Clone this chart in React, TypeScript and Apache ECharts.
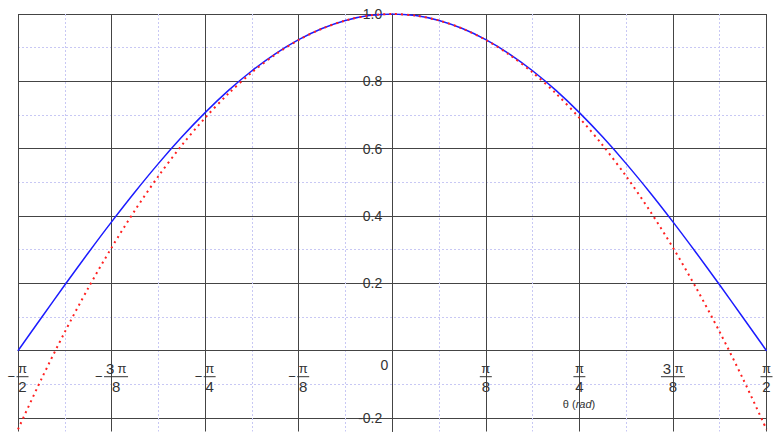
import { useEffect, useRef } from "react";
import * as echarts from "echarts";

// theta in units of pi, from -pi/2 to pi/2 in steps of pi/32
const thetaOverPi = [
  -0.5, -0.46875, -0.4375, -0.40625, -0.375, -0.34375, -0.3125, -0.28125,
  -0.25, -0.21875, -0.1875, -0.15625, -0.125, -0.09375, -0.0625, -0.03125,
  0, 0.03125, 0.0625, 0.09375, 0.125, 0.15625, 0.1875, 0.21875, 0.25,
  0.28125, 0.3125, 0.34375, 0.375, 0.40625, 0.4375, 0.46875, 0.5,
];

// cos(theta), solid blue
const cosValues = [
  0, 0.098, 0.1951, 0.2903, 0.3827, 0.4714, 0.5556, 0.6344, 0.7071, 0.773,
  0.8315, 0.8819, 0.9239, 0.9569, 0.9808, 0.9952, 1, 0.9952, 0.9808, 0.9569,
  0.9239, 0.8819, 0.8315, 0.773, 0.7071, 0.6344, 0.5556, 0.4714, 0.3827,
  0.2903, 0.1951, 0.098, 0,
];

// 1 - theta^2 / 2, dotted red
const approxValues = [
  -0.2337, -0.0843, 0.0554, 0.1856, 0.306, 0.4169, 0.5181, 0.6097, 0.6916,
  0.7639, 0.8265, 0.8795, 0.9229, 0.9566, 0.9807, 0.9952, 1, 0.9952, 0.9807,
  0.9566, 0.9229, 0.8795, 0.8265, 0.7639, 0.6916, 0.6097, 0.5181, 0.4169,
  0.306, 0.1856, 0.0554, -0.0843, -0.2337,
];

const FONT = "'Liberation Sans', Arial, sans-serif";
const TEXT = "#333";
const MAJOR = "#444";
const MINOR = "#c8c8f4";

// plot box (px) and axis ranges
const GRID_LEFT = 18;
const GRID_RIGHT = 13.5;
const GRID_TOP = 14;
const GRID_BOTTOM = 5.5;
const Y_MIN = -0.24;
const Y_MAX = 1;
const X_MIN = -0.5;
const X_MAX = 0.5;

const gcd = (a: number, b: number): number => (b === 0 ? a : gcd(b, a % b));

// x labels as stacked fractions of pi
function piLabel(value: number) {
  const n = Math.round(value * 8);
  if (n === 0) return "";
  const m = Math.abs(n);
  const g = gcd(m, 8);
  const num = m / g;
  const den = 8 / g;
  const neg = n < 0;
  const wide = num !== 1;
  const top = (wide ? `{c|${num}}` : "") + "{p|π}";
  const bar = wide ? "{barW|\u00a0}" : "{bar|\u00a0}";
  const bottom = wide ? `{dW|${den}}` : `{d|${den}}`;
  return [
    (neg ? "{pad|\u00a0}" : "") + top,
    (neg ? "{neg|−}" : "") + bar,
    (neg ? "{pad2|\u00a0}" : "") + bottom,
  ].join("\n");
}

export default function App() {
  const chartRef = useRef<HTMLDivElement>(null);

  useEffect(() => {
    if (!chartRef.current) return;
    const chart = echarts.init(chartRef.current, null, { renderer: "svg" });

    const w = chartRef.current.clientWidth;
    const h = chartRef.current.clientHeight;
    const plotW = w - GRID_LEFT - GRID_RIGHT;
    const plotH = h - GRID_TOP - GRID_BOTTOM;
    // move the axes onto the zero lines
    const xAxisOffset = -(plotH * (0 - Y_MIN)) / (Y_MAX - Y_MIN);
    const yAxisOffset = -(plotW * (0 - X_MIN)) / (X_MAX - X_MIN);

    chart.setOption({
      animation: false,
      backgroundColor: "#fff",
      textStyle: { fontFamily: FONT },
      grid: {
        left: GRID_LEFT,
        right: GRID_RIGHT,
        top: GRID_TOP,
        bottom: GRID_BOTTOM,
        containLabel: false,
        outerBoundsMode: "none",
      },
      xAxis: {
        type: "value",
        min: X_MIN,
        max: X_MAX,
        interval: 0.125,
        position: "bottom",
        offset: xAxisOffset,
        axisLine: { show: true, onZero: false, lineStyle: { color: MAJOR, width: 1 } },
        axisTick: { show: false },
        splitLine: { show: true, lineStyle: { color: MAJOR, width: 1 } },
        minorTick: { show: false, splitNumber: 2 },
        minorSplitLine: {
          show: true,
          lineStyle: { color: MINOR, width: 1, type: [2, 2] },
        },
        axisLabel: {
          show: true,
          margin: 11,
          color: TEXT,
          fontFamily: FONT,
          formatter: piLabel,
          rich: {
            pad: { width: 9, lineHeight: 14, fontSize: 13 },
            pad2: { width: 9, lineHeight: 18, fontSize: 15 },
            neg: { width: 9, lineHeight: 2, fontSize: 13, align: "left", color: TEXT },
            c: { width: 12, align: "center", fontSize: 15, lineHeight: 14, color: TEXT },
            p: { width: 12, align: "center", fontSize: 13, lineHeight: 14, color: TEXT },
            bar: { width: 12, height: 1, lineHeight: 2, backgroundColor: TEXT, fontSize: 2 },
            barW: { width: 24, height: 1, lineHeight: 2, backgroundColor: TEXT, fontSize: 2 },
            d: { width: 12, align: "center", fontSize: 15, lineHeight: 18, color: TEXT },
            dW: { width: 24, align: "center", fontSize: 15, lineHeight: 18, color: TEXT },
          },
        },
      },
      yAxis: {
        type: "value",
        min: Y_MIN,
        max: Y_MAX,
        splitNumber: 5,
        position: "left",
        offset: yAxisOffset,
        axisLine: { show: true, onZero: false, lineStyle: { color: MAJOR, width: 1 } },
        axisTick: { show: false },
        splitLine: {
          show: true,
          showMinLine: false,
          lineStyle: { color: MAJOR, width: 1 },
        },
        minorTick: { show: false, splitNumber: 2 },
        minorSplitLine: {
          show: true,
          lineStyle: { color: MINOR, width: 1, type: [2, 2] },
        },
        axisLabel: {
          show: true,
          margin: 4,
          color: TEXT,
          fontFamily: FONT,
          fontSize: 14,
          formatter: (v: number) => {
            const r = Math.round(v * 10) / 10;
            if (Math.abs(v - r) > 1e-6) return "";
            if (r === 0) return "{z|0}";
            return `{n|${r.toFixed(1)}}`;
          },
          rich: {
            n: { fontSize: 14, color: TEXT, padding: [0, 6, 0, 0] },
            z: { fontSize: 14, color: TEXT, padding: [28, 0, 0, 0] },
          },
        },
      },
      graphic: [
        {
          type: "text",
          x: 579,
          y: 404,
          style: {
            text: "θ ({i|rad})",
            fontFamily: FONT,
            fontSize: 11,
            fill: TEXT,
            align: "center",
            verticalAlign: "middle",
            rich: {
              i: { fontStyle: "italic", fontSize: 11, fill: TEXT },
            },
          },
        },
      ],
      series: [
        {
          type: "line",
          name: "cos θ",
          data: thetaOverPi.map((t, i) => [t, cosValues[i]]),
          showSymbol: false,
          smooth: 0.3,
          lineStyle: { color: "#1c1cff", width: 1.5 },
        },
        {
          type: "line",
          name: "1 − θ²/2",
          data: thetaOverPi.map((t, i) => [t, approxValues[i]]),
          showSymbol: false,
          smooth: 0.3,
          lineStyle: { color: "#ff2020", width: 2, type: [2, 4] },
        },
      ],
    });

    return () => {
      chart.dispose();
    };
  }, []);

  return (
    <div
      ref={chartRef}
      style={{ position: "absolute", left: 0, top: 0, width: 780, height: 437 }}
    />
  );
}
